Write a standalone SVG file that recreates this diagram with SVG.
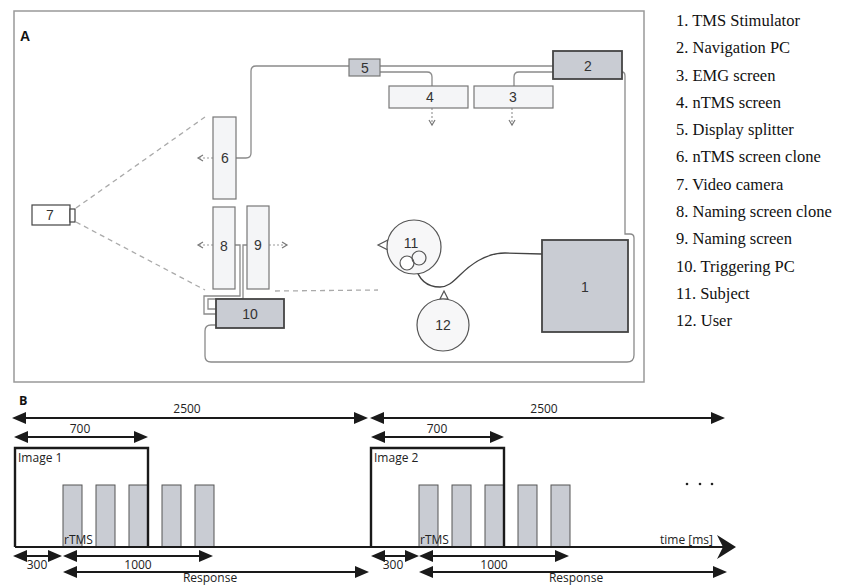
<svg xmlns="http://www.w3.org/2000/svg" width="841" height="586" viewBox="0 0 841 586">
<style>
.lt{fill:#f4f5f7;stroke:#777;stroke-width:1.2}
.dk{fill:#c9ccd3;stroke:#444;stroke-width:1.8}
.md{fill:#c9ccd3;stroke:#777;stroke-width:1.2}
.num{font-family:"Liberation Sans",Arial,sans-serif;font-size:14px;fill:#333;text-anchor:middle}
.cab{fill:none;stroke:#8a8a8a;stroke-width:1.3}
.sight{fill:none;stroke:#aaa;stroke-width:1.3;stroke-dasharray:5 4}
.dot{fill:none;stroke:#999;stroke-width:1.2;stroke-dasharray:2 2}
.leg{font-family:"Liberation Serif","Times New Roman",serif;font-size:16.5px;fill:#111}
.b{font-family:"Open Sans","Liberation Sans",sans-serif;font-size:12px;fill:#222}
.ar{fill:none;stroke:#1a1a1a;stroke-width:2;marker-start:url(#ah);marker-end:url(#ah)}
.bar{fill:#c9ccd3;stroke:#555;stroke-width:1}
</style>
<defs>
<marker id="ah" markerUnits="userSpaceOnUse" markerWidth="14" markerHeight="12" refX="11" refY="6" orient="auto-start-reverse">
<path d="M0,0 L14,6 L0,12 z" fill="#1a1a1a"/>
</marker>
<marker id="sm" markerUnits="userSpaceOnUse" markerWidth="8" markerHeight="8" refX="6" refY="4" orient="auto">
<path d="M1,1 L6,4 L1,7" fill="none" stroke="#777" stroke-width="1.2"/>
</marker>
</defs>

<!-- Panel A -->
<rect x="14" y="11" width="630" height="371" fill="#fff" stroke="#999" stroke-width="1.5"/>
<text x="20" y="41" font-family="Liberation Sans,Arial,sans-serif" font-size="14" font-weight="bold" fill="#111">A</text>

<g id="connectors">
<path class="cab" d="M349,66 H256 Q251,66 251,71 V153 Q251,158 246,158 H236"/>
<path class="cab" d="M380,66 H553"/>
<path class="cab" d="M380,72 H427 Q432,72 432,77 V86"/>
<path class="cab" d="M553,72 H519 Q514,72 514,77 V86"/>
<path class="cab" d="M622,72 Q625,72 625,76 V234 H630 Q634,234 634,238 V355 Q634,362 627,362 H211 Q205,362 205,356 V331 Q205,325 211,325 H216"/>
<path class="cab" d="M235,245 H240 V296 H204 V314 H216"/>
<path class="cab" d="M247,245 H243 V299 H208 V309 H216"/>
<path d="M542,254 L505,253 C485,253 470,265 460,275 C452,283 447,287 440,287 C425,287 418,278 415,265" fill="none" stroke="#444" stroke-width="1.3"/>
<path class="sight" d="M76,208 L205,117"/>
<path class="sight" d="M76,222 L205,290"/>
<path class="sight" d="M275,291 L378,290"/>
<path class="dot" d="M213,158 H198" marker-end="url(#sm)"/>
<path class="dot" d="M213,245 H198" marker-end="url(#sm)"/>
<path class="dot" d="M269,245 H287" marker-end="url(#sm)"/>
<path class="dot" d="M432,108 V125" marker-end="url(#sm)"/>
<path class="dot" d="M512,108 V125" marker-end="url(#sm)"/>
</g>

<g id="n1"><rect class="dk" x="542" y="240" width="86" height="92" stroke-width="2"/><text class="num" x="585" y="292">1</text></g>
<g id="n2"><rect class="dk" x="553" y="51" width="69" height="28"/><text class="num" x="588" y="71">2</text></g>
<g id="n3"><rect class="lt" x="474" y="86" width="79" height="22"/><text class="num" x="513" y="102">3</text></g>
<g id="n4"><rect class="lt" x="389" y="86" width="79" height="22"/><text class="num" x="430" y="102">4</text></g>
<g id="n5"><rect class="md" x="349" y="59" width="31" height="17"/><text class="num" x="365" y="73">5</text></g>
<g id="n6"><rect class="lt" x="213" y="117" width="23" height="82"/><text class="num" x="225" y="163">6</text></g>
<g id="n7"><rect x="32" y="205" width="38" height="20" fill="#fff" stroke="#444" stroke-width="1.2"/><rect x="70" y="209" width="5" height="13" fill="#fff" stroke="#444" stroke-width="1.2"/><text class="num" x="50" y="220">7</text></g>
<g id="n8"><rect class="lt" x="213" y="207" width="22" height="82"/><text class="num" x="224" y="251">8</text></g>
<g id="n9"><rect class="lt" x="247" y="206" width="22" height="83"/><text class="num" x="258" y="250">9</text></g>
<g id="n10"><rect class="dk" x="216" y="299" width="68" height="29"/><text class="num" x="250" y="319">10</text></g>
<g id="n11">
<path d="M378,245 L388,240 L388,250 z" fill="#fff" stroke="#555" stroke-width="1.2"/>
<circle cx="414" cy="247" r="27" fill="#f7f7f8" stroke="#555" stroke-width="1.2"/>
<circle cx="407" cy="263" r="7" fill="#fff" stroke="#555" stroke-width="1.2"/>
<circle cx="419" cy="258" r="7" fill="none" stroke="#555" stroke-width="1.2"/>
<text class="num" x="411" y="248">11</text>
</g>
<g id="n12">
<path d="M444,291 L448,299 L440,299 z" fill="#fff" stroke="#555" stroke-width="1.2"/>
<circle cx="443" cy="325" r="26" fill="#f7f7f8" stroke="#555" stroke-width="1.2"/>
<text class="num" x="443" y="330">12</text>
</g>

<g id="legend">
<text class="leg" x="676" y="26">1. TMS Stimulator</text>
<text class="leg" x="676" y="53.3">2. Navigation PC</text>
<text class="leg" x="676" y="80.5">3. EMG screen</text>
<text class="leg" x="676" y="107.8">4. nTMS screen</text>
<text class="leg" x="676" y="135.1">5. Display splitter</text>
<text class="leg" x="676" y="162.4">6. nTMS screen clone</text>
<text class="leg" x="676" y="189.6">7. Video camera</text>
<text class="leg" x="676" y="216.9">8. Naming screen clone</text>
<text class="leg" x="676" y="244.2">9. Naming screen</text>
<text class="leg" x="676" y="271.5">10. Triggering PC</text>
<text class="leg" x="676" y="298.7">11. Subject</text>
<text class="leg" x="676" y="326">12. User</text>
</g>

<!-- Panel B -->
<g id="panelB">
<text x="19" y="405" font-family="Open Sans,Liberation Sans,sans-serif" font-size="12.5" font-weight="bold" fill="#111">B</text>
<g class="bars">
<rect class="bar" x="63" y="485" width="19" height="62"/>
<rect class="bar" x="96" y="485" width="19" height="62"/>
<rect class="bar" x="129" y="485" width="19" height="62"/>
<rect class="bar" x="162" y="485" width="19" height="62"/>
<rect class="bar" x="195" y="485" width="19" height="62"/>
<rect class="bar" x="419" y="485" width="19" height="62"/>
<rect class="bar" x="452" y="485" width="19" height="62"/>
<rect class="bar" x="485" y="485" width="19" height="62"/>
<rect class="bar" x="518" y="485" width="19" height="62"/>
<rect class="bar" x="551" y="485" width="19" height="62"/>
</g>
<path d="M15,547 V448 H148 V547" fill="none" stroke="#1a1a1a" stroke-width="2.4"/>
<path d="M371,547 V448 H504 V547" fill="none" stroke="#1a1a1a" stroke-width="2.4"/>
<path d="M15,547 H725" fill="none" stroke="#1a1a1a" stroke-width="2.2"/>
<path d="M717,535 L736,547 L717,559 L723,547 z" fill="#1a1a1a"/>

<path class="ar" d="M15,418 H365"/>
<path class="ar" d="M373,418 H722"/>
<path class="ar" d="M17,437 H145"/>
<path class="ar" d="M374,437 H501"/>
<path class="ar" d="M16,556 H59"/>
<path class="ar" d="M66,556 H210"/>
<path class="ar" d="M66,572 H366"/>
<path class="ar" d="M374,556 H416"/>
<path class="ar" d="M422,556 H566"/>
<path class="ar" d="M422,572 H724"/>

<text class="b" x="187" y="413" text-anchor="middle">2500</text>
<text class="b" x="544" y="413" text-anchor="middle">2500</text>
<text class="b" x="80" y="433" text-anchor="middle">700</text>
<text class="b" x="437" y="433" text-anchor="middle">700</text>
<text class="b" x="18" y="462">Image 1</text>
<text class="b" x="374" y="462">Image 2</text>
<text class="b" x="64" y="544">rTMS</text>
<text class="b" x="420" y="544">rTMS</text>
<text class="b" x="660" y="544">time [ms]</text>
<text class="b" x="37" y="569" text-anchor="middle">300</text>
<text class="b" x="393" y="569" text-anchor="middle">300</text>
<text class="b" x="138" y="569" text-anchor="middle">1000</text>
<text class="b" x="494" y="569" text-anchor="middle">1000</text>
<text class="b" x="210" y="582" text-anchor="middle">Response</text>
<text class="b" x="576" y="582" text-anchor="middle">Response</text>
<circle cx="687" cy="484" r="1.3" fill="#222"/>
<circle cx="700" cy="484" r="1.3" fill="#222"/>
<circle cx="712" cy="484" r="1.3" fill="#222"/>
</g>
</svg>
